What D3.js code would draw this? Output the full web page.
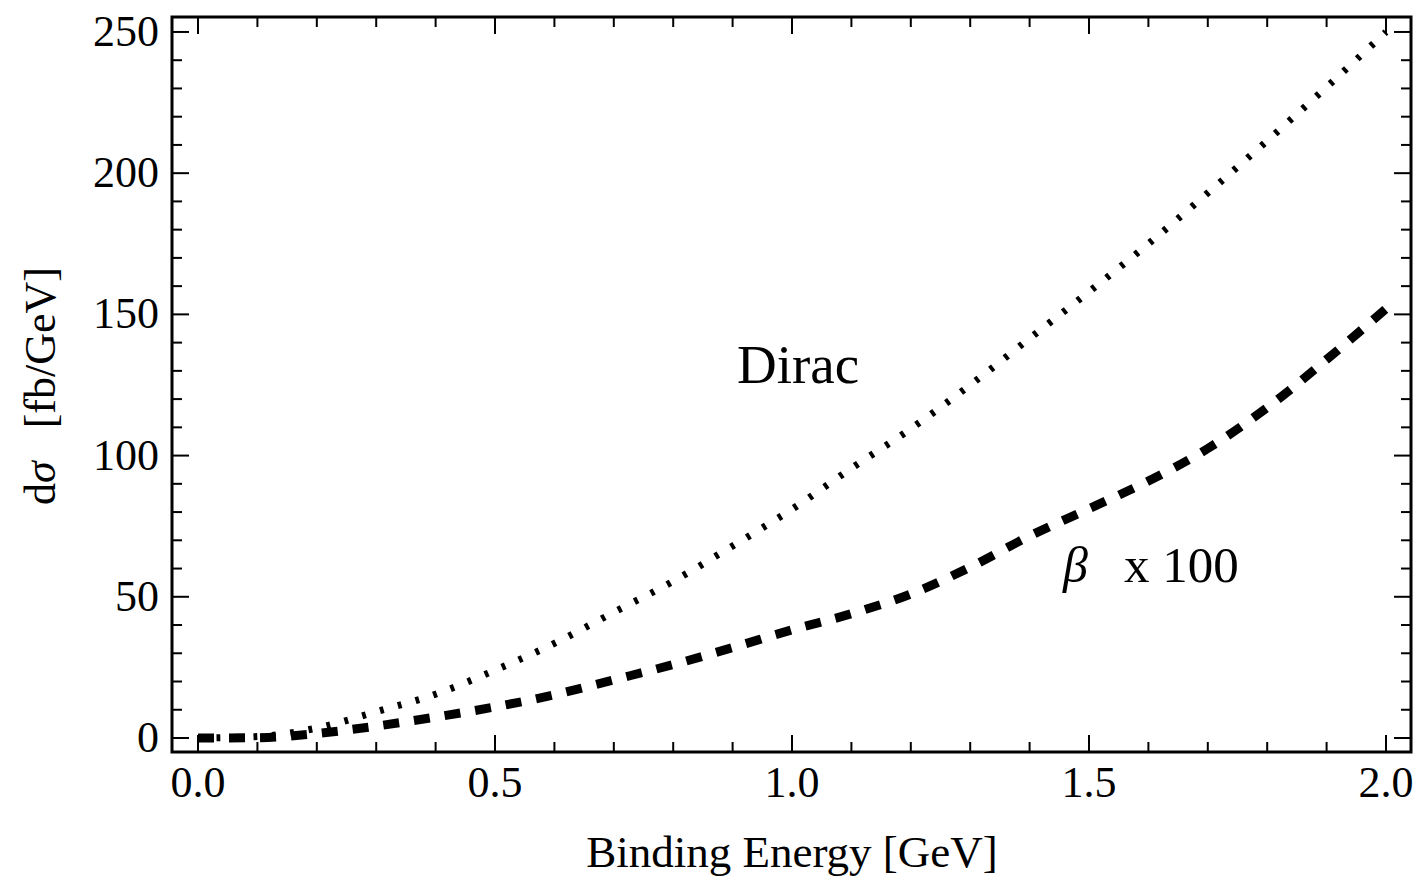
<!DOCTYPE html>
<html>
<head>
<meta charset="utf-8">
<script src="https://cdn.jsdelivr.net/npm/d3@7"></script>
<style>
  html, body { margin: 0; padding: 0; background: #fff; }
  svg { display: block; }
  text { font-family: "Liberation Serif", "Times New Roman", serif; fill: #000; }
</style>
</head>
<body>
<svg id="chart" width="1418" height="877"></svg>
<script>
// Binding energy grid (GeV)
const bindingEnergy = [0.0, 0.1, 0.2, 0.3, 0.4, 0.5, 0.6, 0.7, 0.8, 0.9, 1.0,
                       1.1, 1.2, 1.3, 1.4, 1.5, 1.6, 1.7, 1.8, 1.9, 2.0];
// Differential cross section, Dirac case (fb/GeV)
const diracValues = [0, 0.5, 3.5, 9.3, 15.5, 24, 33.5, 44.5, 55.5, 68, 81,
                     95.5, 109.5, 125, 141.5, 158, 175, 193, 211.5, 230.5, 250];
// Differential cross section, beta case scaled by 100 (fb/GeV)
const betaValues = [0, 0.1, 1.6, 4.2, 7.4, 11, 15.3, 20.6, 26, 32, 38.3,
                    44, 51, 60.5, 71.5, 81.2, 91, 102.5, 117, 134, 152];

const xMajorTicks = [0.0, 0.5, 1.0, 1.5, 2.0];
const xMinorTicks = d3.range(0, 2.0001, 0.1);
const yMajorTicks = [0, 50, 100, 150, 200, 250];
const yMinorTicks = d3.range(0, 250.001, 10);

const svg = d3.select("#chart");

const plot = { left: 172, right: 1411, top: 17, bottom: 752 };

const x = d3.scaleLinear().domain([-0.0438, 2.0421]).range([plot.left, plot.right]);
const y = d3.scaleLinear().domain([-4.96, 255.3]).range([plot.bottom, plot.top]);

// Curves
const line = d3.line()
  .x((d, i) => x(bindingEnergy[i]))
  .y(d => y(d))
  .curve(d3.curveMonotoneX);

svg.append("defs").append("clipPath").attr("id", "plotClip")
  .append("rect")
  .attr("x", plot.left).attr("y", plot.top)
  .attr("width", plot.right - plot.left).attr("height", plot.bottom - plot.top);

const curves = svg.append("g").attr("clip-path", "url(#plotClip)");

curves.append("path")
  .datum(diracValues)
  .attr("d", line)
  .attr("fill", "none")
  .attr("stroke", "#000")
  .attr("stroke-width", 7)
  .attr("stroke-dasharray", "3.8,14.7");

curves.append("path")
  .datum(betaValues)
  .attr("d", line)
  .attr("fill", "none")
  .attr("stroke", "#000")
  .attr("stroke-width", 9)
  .attr("stroke-dasharray", "16,15");

// Ticks on all four sides, pointing inward
const majorLen = 17, minorLen = 10;
const ticks = svg.append("g").attr("stroke", "#000").attr("stroke-width", 2);

const xTickSet = xMinorTicks.map(v => ({ v, major: xMajorTicks.some(m => Math.abs(m - v) < 1e-6) }));
const yTickSet = yMinorTicks.map(v => ({ v, major: yMajorTicks.some(m => Math.abs(m - v) < 1e-6) }));

xTickSet.forEach(t => {
  const len = t.major ? majorLen : minorLen;
  ticks.append("line").attr("x1", x(t.v)).attr("x2", x(t.v))
    .attr("y1", plot.bottom).attr("y2", plot.bottom - len);
  ticks.append("line").attr("x1", x(t.v)).attr("x2", x(t.v))
    .attr("y1", plot.top).attr("y2", plot.top + len);
});
yTickSet.forEach(t => {
  const len = t.major ? majorLen : minorLen;
  ticks.append("line").attr("y1", y(t.v)).attr("y2", y(t.v))
    .attr("x1", plot.left).attr("x2", plot.left + len);
  ticks.append("line").attr("y1", y(t.v)).attr("y2", y(t.v))
    .attr("x1", plot.right).attr("x2", plot.right - len);
});

// Frame
svg.append("rect")
  .attr("x", plot.left).attr("y", plot.top)
  .attr("width", plot.right - plot.left).attr("height", plot.bottom - plot.top)
  .attr("fill", "none").attr("stroke", "#000").attr("stroke-width", 3);

// Tick labels
const fmtX = d3.format(".1f");
svg.append("g").selectAll("text")
  .data(xMajorTicks).join("text")
  .attr("x", d => x(d))
  .attr("y", 797)
  .attr("text-anchor", "middle")
  .attr("font-size", 44)
  .text(d => fmtX(d));

svg.append("g").selectAll("text")
  .data(yMajorTicks).join("text")
  .attr("x", 159)
  .attr("y", d => y(d) + 14)
  .attr("text-anchor", "end")
  .attr("font-size", 44)
  .text(d => d);

// Axis titles
svg.append("text")
  .attr("x", 792).attr("y", 867)
  .attr("text-anchor", "middle")
  .attr("font-size", 45)
  .text("Binding Energy [GeV]");

const yTitle = svg.append("text")
  .attr("transform", "translate(55,386) rotate(-90)")
  .attr("text-anchor", "middle")
  .attr("font-size", 44)
  .style("white-space", "pre");
yTitle.append("tspan").text("d");
yTitle.append("tspan").attr("font-style", "italic").text("σ");
yTitle.append("tspan").text("   [fb/GeV]");

// Curve labels
svg.append("text")
  .attr("x", 798).attr("y", 383)
  .attr("text-anchor", "middle")
  .attr("font-size", 55)
  .text("Dirac");

svg.append("text")
  .attr("x", 1063).attr("y", 582)
  .attr("font-size", 50)
  .attr("font-style", "italic")
  .text("β");
svg.append("text")
  .attr("x", 1124).attr("y", 582)
  .attr("font-size", 51)
  .text("x 100");
</script>
</body>
</html>
